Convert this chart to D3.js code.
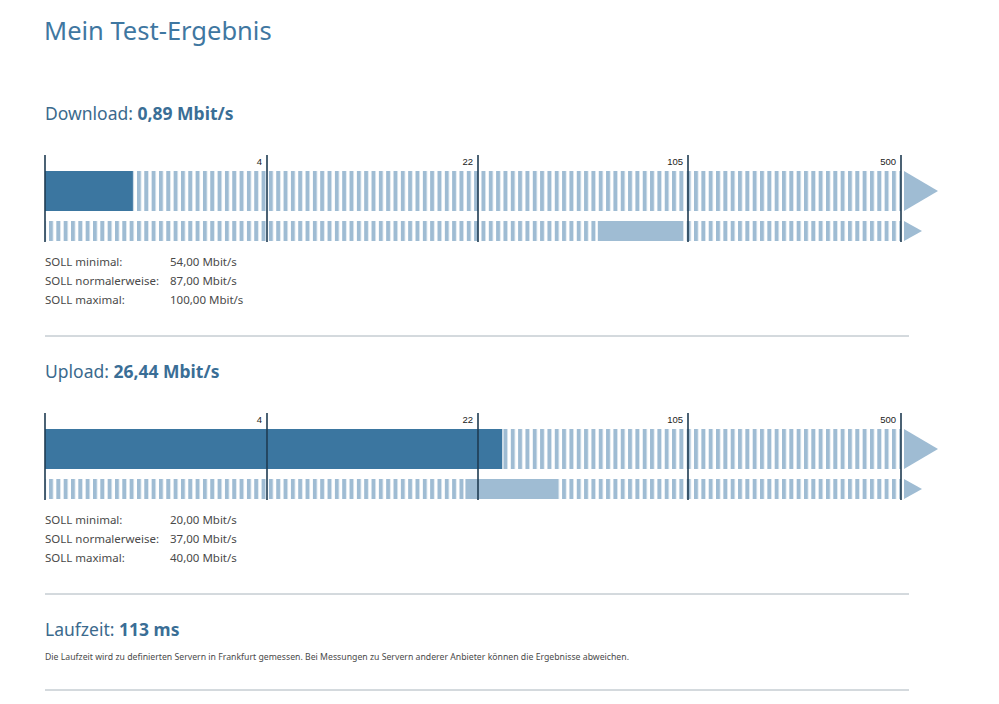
<!DOCTYPE html>
<html>
<head>
<meta charset="utf-8">
<script src="https://cdn.jsdelivr.net/npm/d3@7"></script>
<style>
  body { margin: 0; background: #fff; }
  svg { display: block; font-family: "Noto Sans", sans-serif; }
</style>
</head>
<body>
<svg width="999" height="704"></svg>
<script>
// measured values and targets (Mbit/s)
var sections = ["Download", "Upload"];
var measured = [0.89, 26.44];
var sollMin = [54, 20];
var sollNormal = [87, 37];
var sollMax = [100, 40];
var tickValues = [4, 22, 105, 500];
var scaleDomain = [0, 4, 22, 105, 500];
var latencyMs = 113;

var svg = d3.select("svg");
var de = d3.formatLocale({ decimal: ",", thousands: ".", grouping: [3], currency: ["", " €"] });
var fmt = de.format(",.2f");

var dark = "#3b76a0", light = "#9fbcd3", lineCol = "#1f3b52", textCol = "#4a4a4a";

// piecewise log-ish scale, each segment same width
var x = d3.scaleSymlog()
    .domain(scaleDomain)
    .range([45, 267, 478, 688, 901]);

var defs = svg.append("defs");
var pat = defs.append("pattern")
    .attr("id", "stripes")
    .attr("patternUnits", "userSpaceOnUse")
    .attr("x", 49).attr("y", 0)
    .attr("width", 7.33).attr("height", 10);
pat.append("rect").attr("width", 4).attr("height", 10).attr("fill", light);

svg.append("text")
    .attr("x", 44).attr("y", 40)
    .attr("font-size", 25.5)
    .attr("fill", "#3f77a1")
    .text("Mein Test-Ergebnis");

function heading(y, label, value) {
    var t = svg.append("text")
        .attr("x", 45).attr("y", y)
        .attr("font-size", 17.5)
        .attr("fill", "#3b6a8d");
    t.append("tspan").text(label + ": ");
    t.append("tspan").attr("font-weight", "bold").attr("fill", "#3a6e96").text(value);
}

function separator(y) {
    svg.append("line")
        .attr("x1", 45).attr("x2", 909)
        .attr("y1", y).attr("y2", y)
        .attr("stroke", "#a9b4bc").attr("stroke-width", 1);
}

var offsets = [0, 258];

sections.forEach(function (name, i) {
    var oy = offsets[i];
    heading(120 + oy, name, fmt(measured[i]) + " Mbit/s");

    var g = svg.append("g").attr("transform", "translate(0," + oy + ")");

    // row 1: measured value
    g.append("rect")
        .attr("x", x(0)).attr("y", 171)
        .attr("width", x(500) - x(0)).attr("height", 40)
        .attr("fill", "url(#stripes)");
    g.append("rect")
        .attr("x", x(0)).attr("y", 171)
        .attr("width", x(measured[i]) - x(0)).attr("height", 40)
        .attr("fill", dark);
    g.append("path")
        .attr("d", "M904,171L938,191L904,211Z")
        .attr("fill", light);

    // row 2: target range
    g.append("rect")
        .attr("x", x(0)).attr("y", 221)
        .attr("width", x(500) - x(0)).attr("height", 20)
        .attr("fill", "url(#stripes)");
    g.append("rect")
        .attr("x", x(sollMin[i])).attr("y", 221)
        .attr("width", x(sollMax[i]) - x(sollMin[i])).attr("height", 20)
        .attr("fill", light);
    g.append("path")
        .attr("d", "M904,221L922,231L904,241Z")
        .attr("fill", light);

    // tick lines and labels
    g.selectAll(".tick")
        .data([0].concat(tickValues))
        .enter().append("line")
        .attr("x1", function (d) { return x(d); })
        .attr("x2", function (d) { return x(d); })
        .attr("y1", 155).attr("y2", 242)
        .attr("stroke", lineCol).attr("stroke-width", 1.6);
    g.selectAll(".tl")
        .data(tickValues)
        .enter().append("text")
        .attr("x", function (d) { return x(d) - 5; })
        .attr("y", 165)
        .attr("text-anchor", "end")
        .attr("font-family", "Liberation Sans, sans-serif")
        .attr("font-size", 9.5)
        .attr("fill", "#222")
        .text(function (d) { return d; });

    // target list
    var rows = [["SOLL minimal:", sollMin[i]], ["SOLL normalerweise:", sollNormal[i]], ["SOLL maximal:", sollMax[i]]];
    rows.forEach(function (r, j) {
        g.append("text").attr("x", 45).attr("y", 266 + j * 19)
            .attr("font-size", 11.5).attr("fill", textCol).text(r[0]);
        g.append("text").attr("x", 170).attr("y", 266 + j * 19)
            .attr("font-size", 11.5).attr("fill", textCol).text(fmt(r[1]) + " Mbit/s");
    });

    separator(336 + oy);
});

heading(636, "Laufzeit", latencyMs + " ms");
svg.append("text")
    .attr("x", 45).attr("y", 660)
    .attr("font-size", 8.7).attr("fill", textCol)
    .attr("textLength", 584).attr("lengthAdjust", "spacing")
    .text("Die Laufzeit wird zu definierten Servern in Frankfurt gemessen. Bei Messungen zu Servern anderer Anbieter können die Ergebnisse abweichen.");
separator(690);
</script>
</body>
</html>
